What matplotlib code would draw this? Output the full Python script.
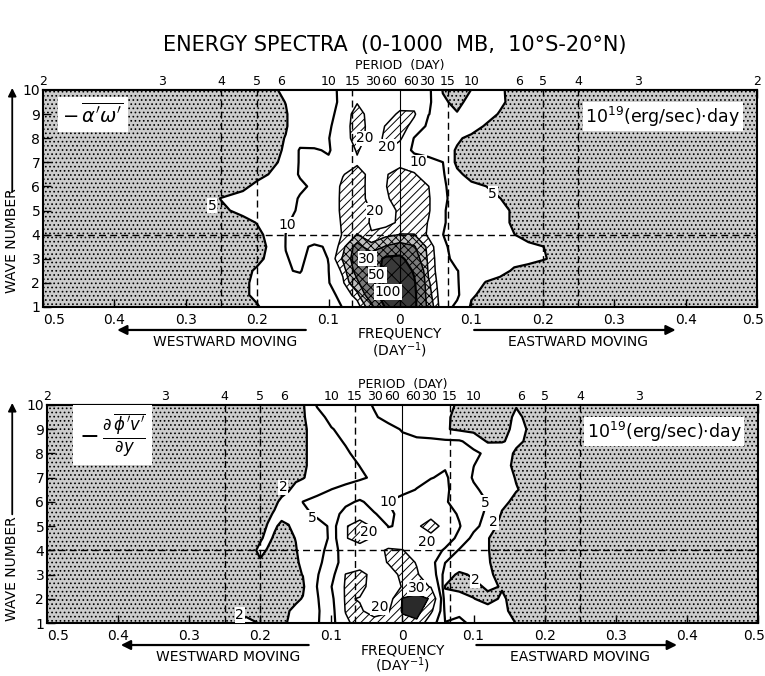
import numpy as np
import matplotlib
matplotlib.use("Agg")
import matplotlib.pyplot as plt
from matplotlib.patches import FancyArrowPatch
from matplotlib.transforms import ScaledTranslation

plt.rcParams["font.family"] = ["DejaVu Sans"]
plt.rcParams["hatch.color"] = "black"
plt.rcParams["hatch.linewidth"] = 0.7

# frequency grid (1/day), westward moving waves negative
freq_a = [-0.5, -0.4, -0.3, -0.25, -0.22, -0.2, -0.18, -0.16, -0.14, -0.12, -0.1,
          -0.08, -0.06, -0.04, -0.02, 0.0, 0.02, 0.04, 0.06, 0.08, 0.1, 0.12,
          0.14, 0.16, 0.18, 0.2, 0.22, 0.25, 0.3, 0.4, 0.5]
freq_b = [-0.5, -0.4, -0.3, -0.25, -0.22, -0.2, -0.19, -0.18, -0.17, -0.16, -0.15,
          -0.14, -0.12, -0.1, -0.08, -0.06, -0.04, -0.02, 0.0, 0.02, 0.04, 0.06,
          0.08, 0.1, 0.12, 0.14, 0.16, 0.18, 0.2, 0.25, 0.3, 0.4, 0.5]
# zonal wave numbers, top row first
waves = [10, 9.5, 9, 8.5, 8, 7.5, 7, 6.5, 6, 5.5, 5, 4.5, 4, 3.5, 3, 2.5, 2, 1.5, 1]

# -a'w' spectrum, 10^19 (erg/sec) day
spec_a = [
    [2, 2, 2.5, 3, 3.5, 4, 4.5, 5.6, 6.5, 7, 8, 11.5, 14, 15, 15, 15, 14, 11, 4.8, 3.5, 5.05, 6, 5.5, 4, 3, 3, 2.5, 2.5, 2, 2, 2],
    [2, 2, 2.5, 3, 3.5, 3.8, 4.3, 5.05, 6.5, 7.5, 8.5, 11, 19, 14, 14, 15, 17, 11, 5.5, 4.2, 6, 6.5, 5.5, 4.2, 3.5, 3, 2.5, 2.5, 2, 2, 2],
    [2, 2, 2.5, 3, 3.5, 3.8, 4.2, 4.8, 6.5, 7.5, 9, 11.5, 26, 14, 15, 22, 21, 10.2, 7, 5.2, 6, 6, 4.8, 4, 3.5, 3, 2.5, 2.5, 2, 2, 2],
    [2, 2, 2.5, 3, 3.5, 3.8, 4.2, 4.8, 6.5, 7.5, 9.5, 12, 28, 14, 20.5, 24, 17, 8, 7, 6.5, 6, 4.8, 4, 3.5, 3, 3, 2.5, 2.5, 2, 2, 2],
    [2, 2, 2.5, 3, 3.5, 3.8, 4.2, 5.1, 8, 8.5, 9.9, 12, 27, 14, 22, 21.5, 9.5, 7.5, 7, 5.3, 4.5, 4, 3.5, 3, 3, 2.5, 2.5, 2.5, 2, 2, 2],
    [2, 2, 2.5, 3, 3.5, 3.8, 4.5, 5.2, 10.5, 10.3, 9.7, 12, 21, 14, 20.5, 15, 8.5, 7.5, 6, 4.8, 4, 3.5, 3, 3, 2.5, 2.5, 2.5, 2.5, 2, 2, 2],
    [2, 2, 2.5, 3, 3.5, 4, 4.6, 5.5, 10.5, 11, 10.5, 13, 18.5, 16, 15, 16, 14, 12, 10.05, 4, 3.5, 3, 3, 2.5, 2.5, 2.5, 2.5, 2.5, 2, 2, 2],
    [2, 2, 2.5, 3, 3.8, 4.3, 5.2, 7, 10.5, 12, 13, 19.5, 24, 17, 19, 25, 21, 13, 10.5, 6, 3.5, 3, 3, 2.5, 2.5, 2.5, 2.5, 2.5, 2, 2, 2],
    [2, 2, 2.5, 3.5, 4.5, 5.6, 6.5, 7.5, 9, 11, 13, 22, 25, 16, 19.5, 27, 26, 20.2, 11, 7, 6, 5.05, 4, 3.5, 3, 3, 2.5, 2.5, 2, 2, 2],
    [2, 2.5, 3, 5.1, 5.8, 6.3, 6.8, 7.5, 10.5, 12, 14, 22, 24, 17, 18, 26, 27, 21, 11, 8, 7, 6, 5.05, 4, 3.5, 3, 3, 2.5, 2, 2, 2],
    [2, 2.5, 3.5, 4.6, 5.6, 6.2, 7, 8.5, 10.7, 12.5, 14, 22, 24, 19.5, 16, 21.5, 27, 21, 10.5, 8, 7.5, 7, 6, 4.5, 4, 3.5, 3, 2.5, 2, 2, 2],
    [2, 2, 3, 3.8, 4.3, 5.1, 6.5, 9.5, 11.5, 13, 15, 21, 25, 19, 17, 21.5, 26, 19.5, 10.5, 8, 7.5, 7, 6, 4.5, 4, 3.5, 3, 2.5, 2, 2, 2],
    [2, 2, 2.5, 3.5, 4, 4.5, 5.7, 10.05, 12, 13, 15, 20.5, 30.5, 20.5, 25, 30.5, 30.2, 18, 10.05, 8, 7.5, 7, 6, 5.05, 4, 3.5, 3, 2.5, 2, 2, 2],
    [2, 2, 2.5, 3, 3.5, 4.3, 5.4, 10.1, 11, 9.3, 10.5, 25, 60, 35, 52, 60, 52, 25, 11, 8, 7.5, 7, 6.5, 6, 5.6, 5.05, 4.3, 3.5, 3, 2, 2],
    [2, 2, 2.5, 3, 3.8, 4.5, 5.6, 9.8, 10.8, 8.5, 10.1, 32, 65, 70, 110, 115, 65, 26, 12, 8, 7.5, 7, 6.5, 6, 5.8, 5.2, 4.5, 3.5, 3, 2, 2],
    [2, 2, 2.5, 3, 4.4, 5.3, 7, 9.7, 10.3, 7.5, 9.9, 22, 60, 75, 115, 130, 95, 27, 12, 10.2, 7.5, 7, 6, 4.6, 4, 3.5, 3, 2.5, 2, 2, 2],
    [2, 2, 2.5, 3, 4.6, 5.5, 6.5, 7.5, 8.5, 8, 9.5, 18, 45, 80, 115, 135, 105, 32, 11, 10.3, 7.5, 4.8, 4, 3.5, 3, 3, 2.5, 2.5, 2, 2, 2],
    [2, 2, 2.5, 3, 4.6, 5.5, 6.5, 7, 7.5, 7.5, 8, 12, 25, 70, 130, 140, 110, 35, 12, 10.8, 5.4, 4.2, 3.5, 3, 3, 2.5, 2.5, 2.5, 2, 2, 2],
    [2, 2, 2.5, 3, 4, 4.8, 6, 6.5, 7, 7, 7.5, 10.2, 14, 40, 105, 140, 110, 40, 12, 9, 4.5, 4, 3.5, 3, 3, 2.5, 2.5, 2.5, 2, 2, 2],
]

# -d(phi'v')/dy spectrum, same units
spec_b = [
    [1.5, 1.5, 1.5, 1.5, 1.5, 1.5, 1.5, 1.5, 1.5, 1.6, 1.6, 1.7, 5.3, 6.5, 6.5, 6, 4.8, 4, 4, 3.8, 3.5, 2.8, 1.6, 1.2, 1.2, 1.4, 1.9, 1.6, 1.5, 1.5, 1.5, 1.5, 1.5],
    [1.5, 1.5, 1.5, 1.5, 1.5, 1.5, 1.5, 1.5, 1.5, 1.6, 1.6, 1.7, 3.8, 6, 6.5, 6, 5.3, 4.2, 4, 3.8, 3.5, 2.3, 1.5, 1.2, 1.2, 1.3, 2.3, 1.6, 1.5, 1.5, 1.5, 1.5, 1.5],
    [1.5, 1.5, 1.5, 1.5, 1.5, 1.5, 1.5, 1.5, 1.5, 1.6, 1.6, 1.7, 2.8, 4.8, 6, 6.5, 6.2, 5.8, 4.8, 4, 3.5, 2.2, 1.6, 1.2, 1.2, 1.4, 2.5, 1.8, 1.5, 1.5, 1.5, 1.5, 1.5],
    [1.5, 1.5, 1.5, 1.5, 1.5, 1.5, 1.5, 1.5, 1.5, 1.6, 1.6, 1.7, 2.8, 4, 5.3, 6.5, 6.5, 6, 5.6, 5.5, 5.5, 5.4, 5.3, 4, 1.7, 1.9, 2.4, 1.6, 1.5, 1.5, 1.5, 1.5, 1.5],
    [1.5, 1.5, 1.5, 1.5, 1.5, 1.5, 1.5, 1.5, 1.5, 1.6, 1.6, 1.7, 2.8, 3.5, 4.5, 6, 7, 7.5, 7.5, 7.5, 7.5, 7, 6.5, 5.5, 4.5, 3, 1.7, 1.5, 1.5, 1.5, 1.5, 1.5, 1.5],
    [1.5, 1.5, 1.5, 1.5, 1.5, 1.5, 1.5, 1.5, 1.5, 1.6, 1.6, 1.7, 2.8, 3.5, 4, 5.05, 7, 8, 8.5, 8.5, 9, 9.5, 7, 5.05, 3.8, 2.5, 1.7, 1.5, 1.5, 1.5, 1.5, 1.5, 1.5],
    [1.5, 1.5, 1.5, 1.5, 1.5, 1.5, 1.5, 1.5, 1.5, 1.6, 1.7, 1.9, 2.8, 3.5, 4, 4.5, 5.5, 7.5, 8, 8.5, 9.8, 10.8, 7, 4.7, 3.5, 2.8, 1.9, 1.5, 1.5, 1.5, 1.5, 1.5, 1.5],
    [1.5, 1.5, 1.5, 1.5, 1.5, 1.5, 1.5, 1.6, 1.7, 1.9, 2.5, 3, 4, 5.05, 5.8, 7, 8, 8, 8.5, 10.2, 12, 11, 7.5, 5.5, 4.2, 3, 2.1, 1.5, 1.5, 1.5, 1.5, 1.5, 1.5],
    [1.5, 1.5, 1.5, 1.5, 1.5, 1.6, 1.7, 1.8, 2.2, 2.7, 3.5, 5.05, 6, 7, 9, 10.6, 8.5, 10.05, 12, 14, 13, 10.5, 8, 6.5, 4.9, 2.5, 1.5, 1.5, 1.5, 1.5, 1.5, 1.5, 1.5],
    [1.5, 1.5, 1.5, 1.5, 1.5, 1.6, 1.8, 2.1, 2.2, 2.4, 3, 4.3, 5.5, 8, 11.5, 17, 10.3, 8.5, 12, 15, 14, 12, 9.5, 6.5, 4.3, 1.8, 1.5, 1.5, 1.5, 1.5, 1.5, 1.5, 1.5],
    [1.5, 1.5, 1.5, 1.5, 1.5, 1.6, 2.05, 2.1, 1.85, 1.95, 2.6, 3.5, 4, 5.4, 19.5, 23, 19, 9.8, 10.5, 17, 28, 14, 10.3, 6.5, 2.8, 1.5, 1.5, 1.5, 1.5, 1.5, 1.5, 1.5, 1.5],
    [1.5, 1.5, 1.5, 1.5, 1.5, 1.9, 2.2, 1.9, 1.6, 1.7, 2.05, 3, 4.4, 5.2, 19.5, 23, 19, 12, 11, 13, 14, 12, 9, 3.5, 2.05, 1.5, 1.5, 1.5, 1.5, 1.5, 1.5, 1.5, 1.5],
    [1.5, 1.5, 1.5, 1.5, 1.5, 2.2, 1.95, 1.6, 1.5, 1.6, 1.9, 2.6, 4.6, 5.4, 15, 16, 16, 21.5, 20.5, 14, 12, 9.5, 4.5, 3.2, 2.05, 1.5, 1.5, 1.5, 1.5, 1.5, 1.5, 1.5, 1.5],
    [1.5, 1.5, 1.5, 1.5, 1.5, 1.9, 1.7, 1.5, 1.5, 1.5, 1.8, 2.3, 4.5, 6, 14, 15, 16, 20.5, 24, 19.5, 12, 5.05, 3.5, 3, 2.1, 1.5, 1.5, 1.5, 1.5, 1.5, 1.5, 1.5, 1.5],
    [1.5, 1.5, 1.5, 1.5, 1.5, 1.5, 1.5, 1.5, 1.5, 1.5, 1.7, 2.05, 4.8, 7, 20.3, 23, 17, 16, 22, 21, 14, 3, 1.6, 2.3, 2.3, 1.5, 1.5, 1.5, 1.5, 1.5, 1.5, 1.5, 1.5],
    [1.5, 1.5, 1.5, 1.5, 1.5, 1.5, 1.5, 1.5, 1.5, 1.5, 1.6, 1.7, 5.05, 9.8, 21, 23, 16, 15, 20.5, 23, 19.5, 1.9, 1.3, 1.5, 2.3, 1.9, 1.5, 1.5, 1.5, 1.5, 1.5, 1.5, 1.5],
    [1.5, 1.5, 1.5, 1.5, 1.5, 1.5, 1.5, 1.5, 1.5, 1.6, 1.7, 2.1, 4.7, 8, 21, 19.5, 14, 15, 30.5, 34, 29, 2.5, 3, 2.05, 1.5, 2.2, 1.5, 1.5, 1.5, 1.5, 1.5, 1.5, 1.5],
    [1.5, 1.5, 1.5, 1.5, 1.5, 1.5, 1.5, 1.5, 1.5, 1.95, 2.4, 3, 4.6, 7, 20.5, 21, 17, 19, 31, 34, 22, 4, 4.5, 4, 2.6, 2.3, 1.6, 1.5, 1.5, 1.5, 1.5, 1.5, 1.5],
    [1.5, 1.5, 1.5, 1.5, 2.5, 1.9, 1.5, 1.5, 1.7, 2.1, 2.8, 3.3, 4.7, 7, 18, 24, 23, 24, 27, 28, 13, 5.1, 5.5, 4.5, 3.5, 2.8, 1.95, 1.5, 1.5, 1.5, 1.5, 1.5, 1.5],
]

levels_a = [5, 10, 20, 30, 50, 100]
levels_b = [2, 5, 10, 20, 30]

# contour label spots (freq, wave, level)
labels_a = [(-0.263, 5.2, 5), (-0.158, 4.4, 10), (-0.049, 8.0, 20), (-0.018, 7.65, 20),
            (-0.035, 5.0, 20), (-0.046, 3.0, 30), (-0.032, 2.33, 50), (-0.017, 1.62, 100),
            (0.025, 7.0, 10), (0.13, 5.7, 5)]
labels_b = [(-0.168, 6.6, 2), (-0.127, 5.34, 5), (-0.229, 1.33, 2), (-0.02, 6.0, 10),
            (-0.047, 4.75, 20), (0.034, 4.35, 20), (-0.032, 1.66, 20), (0.02, 2.45, 30),
            (0.117, 5.96, 5), (0.128, 5.17, 2), (0.102, 2.78, 2)]

periods = [2, 3, 4, 5, 6, 10, 15, 30, 60]
guide_periods = [4, 5, 15]
freq_ticks = [-0.5, -0.4, -0.3, -0.2, -0.1, 0, 0.1, 0.2, 0.3, 0.4, 0.5]
nudge = {30: 2.4, 60: -0.9}

STIP = "#cccccc"


def draw_panel(ax, freq, spec, levels, fills, hatches, widths, labels, formula,
               fsize, lay):
    z = np.asarray(spec, dtype=float)[::-1]
    y = np.asarray(waves, dtype=float)[::-1]
    bounds = [0] + levels + [1000]
    ax.contourf(freq, y, z, levels=bounds, colors=fills, hatches=hatches)
    ax.contour(freq, y, z, levels=levels, colors="k", linewidths=widths)

    for p in guide_periods:
        for s in (-1, 1):
            ax.axvline(s / p, color="k", lw=1.0, ls=(0, (5, 3)))
    ax.axhline(4, color="k", lw=1.0, ls=(0, (5, 3)))
    ax.axvline(0, color="k", lw=0.8)

    for fx, wy, lev in labels:
        ax.text(fx, wy, f"{lev:g}", fontsize=10, ha="center", va="center", zorder=5,
                bbox=dict(boxstyle="square,pad=0.05", fc="white", ec="none"))

    ax.set_xlim(-0.5, 0.5)
    ax.set_ylim(1, 10)
    ax.set_xticks(freq_ticks)
    ax.set_xticklabels([f"{abs(v):g}" for v in freq_ticks])
    ax.set_yticks(range(1, 11))
    ax.tick_params(axis="x", direction="in", length=6, width=1, pad=4, labelsize=10)
    ax.tick_params(axis="y", direction="in", length=6, width=1, pad=2, labelsize=10)
    xl = ax.get_xticklabels()
    xl[0].set_ha("left")
    xl[-1].set_ha("right")
    xl[-1].set_transform(xl[-1].get_transform()
                         + ScaledTranslation(5 / 72, 0, fig.dpi_scale_trans))
    for sp in ax.spines.values():
        sp.set_linewidth(1.5)

    sec = ax.secondary_xaxis("top")
    sec.set_xticks([s / p for p in periods for s in (-1, 1)])
    sec.set_xticklabels([])
    sec.tick_params(direction="in", length=6, width=1)
    sec.spines["top"].set_linewidth(1.5)
    for p in periods:
        for s in (-1, 1):
            ax.annotate(f"{p}", xy=(s / p, 1), xycoords=("data", "axes fraction"),
                        xytext=(s * nudge.get(p, 0), 1.5), textcoords="offset points",
                        ha="center", va="bottom", fontsize=9)
    tr = ax.get_xaxis_transform()
    ax.text(0, lay["period"], "PERIOD  (DAY)", transform=tr, ha="center", va="center",
            fontsize=9)
    ax.text(0, lay["freq"], "FREQUENCY", transform=tr, ha="center", va="center",
            fontsize=10)
    ax.text(0, lay["day"], "(DAY$^{-1}$)", transform=tr, ha="center", va="center",
            fontsize=10)
    ax.annotate("", xy=(-0.40, lay["arrow"]), xytext=(-0.128, lay["arrow"]), xycoords=tr,
                arrowprops=dict(arrowstyle="-|>", lw=1.6, color="k", mutation_scale=14),
                annotation_clip=False)
    ax.annotate("", xy=(0.39, lay["arrow"]), xytext=(0.10, lay["arrow"]), xycoords=tr,
                arrowprops=dict(arrowstyle="-|>", lw=1.6, color="k", mutation_scale=14),
                annotation_clip=False)
    ax.text(-0.245, lay["move"], "WESTWARD MOVING", transform=tr, ha="center",
            va="center", fontsize=10)
    ax.text(0.25, lay["move"], "EASTWARD MOVING", transform=tr, ha="center",
            va="center", fontsize=10)

    ax.text(lay["fx"], lay["fy"], formula, fontsize=fsize, ha="center", va="center",
            zorder=5, bbox=dict(boxstyle="square,pad=0.25", fc="white", ec="none"))
    ax.text(0.368, 8.9, r"10$^{19}$(erg/sec)$\cdot$day", fontsize=12.5, ha="center",
            va="center", zorder=5,
            bbox=dict(boxstyle="square,pad=0.15", fc="white", ec="none"))


fig = plt.figure(figsize=(7.65, 6.76), dpi=100)
ax1 = fig.add_axes([0.0562, 0.5459, 0.9333, 0.3210])
ax2 = fig.add_axes([0.0614, 0.0784, 0.9294, 0.3225])

draw_panel(ax1, freq_a, spec_a, levels_a,
           [STIP, "white", "white", "white", "#c0c0c0", "#7a7a7a", "#3a3a3a"],
           ["....", None, None, "////", "xxxx", "xxxx", "xx"],
           [1.6, 1.6, 1.1, 1.1, 1.1, 1.6], labels_a,
           r"$-\,\overline{\alpha^{\prime}\omega^{\prime}}$", 14,
           dict(period=1.115, freq=-0.12, day=-0.198, arrow=-0.106, move=-0.161,
                fx=-0.43, fy=8.97))
draw_panel(ax2, freq_b, spec_b, levels_b,
           [STIP, "white", "white", "white", "white", "#2a2a2a"],
           ["....", None, None, None, "////", None],
           [1.6, 1.6, 1.6, 1.1, 1.1], labels_b,
           r"$-\,\frac{\partial\,\overline{\phi^{\prime}v^{\prime}}}{\partial y}$", 17,
           dict(period=1.095, freq=-0.124, day=-0.193, arrow=-0.101, move=-0.156,
                fx=-0.408, fy=8.75))

fig.text(0.516, 0.933, "ENERGY SPECTRA  (0-1000  MB,  10°S-20°N)", ha="center",
         va="center", fontsize=15)
for yc, y0, y1 in [(0.6435, 0.712, 0.874), (0.159, 0.235, 0.408)]:
    fig.text(0.016, yc, "WAVE NUMBER", rotation=90, ha="center", va="center",
             fontsize=10)
    fig.add_artist(FancyArrowPatch((0.016, y0), (0.016, y1), transform=fig.transFigure,
                                   arrowstyle="-|>", mutation_scale=12, lw=1.3,
                                   color="k"))

fig.savefig("out.png", dpi=100)
